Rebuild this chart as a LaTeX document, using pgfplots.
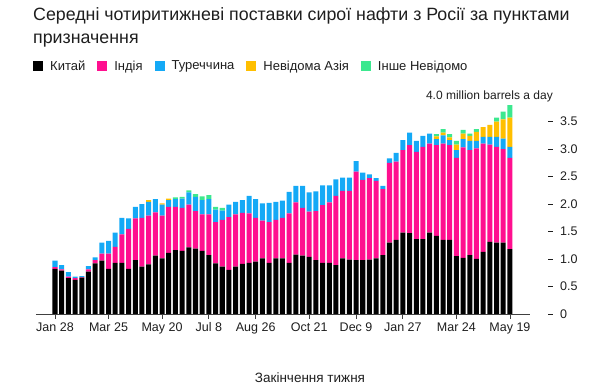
\documentclass[border=0pt]{standalone}
\usepackage{fontspec}
\setmainfont{Liberation Sans}
\usepackage{pgfplots}
\pgfplotsset{compat=1.18}
\usepackage{pgfplotstable}
\definecolor{cchina}{HTML}{000000}
\definecolor{cindia}{HTML}{FF0F8F}
\definecolor{cturkey}{HTML}{14A9F6}
\definecolor{cunk}{HTML}{FFBF00}
\definecolor{cother}{HTML}{3CE88F}
\definecolor{txt}{HTML}{1E1E1E}
\pgfplotstableread{
x c i t u o
0 0.82 0.03 0.12 0 0
1 0.79 0.02 0.08 0 0
2 0.65 0.03 0.08 0 0
3 0.62 0.03 0.03 0 0
4 0.66 0.01 0.02 0 0
5 0.77 0.04 0.06 0 0
6 0.92 0.06 0.05 0 0
7 0.97 0.13 0.20 0 0
8 0.82 0.28 0.23 0 0
9 0.93 0.29 0.26 0 0
10 0.93 0.52 0.30 0 0
11 0.82 0.73 0.19 0 0
12 0.98 0.76 0.21 0 0
13 0.86 0.89 0.25 0 0
14 0.90 0.89 0.25 0.03 0
15 1.06 0.79 0.24 0 0
16 1.01 0.78 0.20 0.02 0
17 1.11 0.84 0.12 0.03 0
18 1.16 0.79 0.14 0 0.03
19 1.15 0.78 0.17 0 0.03
20 1.21 0.78 0.22 0 0.04
21 1.19 0.68 0.26 0 0.05
22 1.15 0.66 0.26 0 0.07
23 1.07 0.74 0.28 0 0.07
24 0.92 0.75 0.23 0 0.05
25 0.86 0.85 0.17 0 0.05
26 0.80 0.96 0.23 0 0
27 0.86 0.95 0.23 0 0
28 0.91 0.93 0.23 0 0
29 0.93 0.90 0.32 0 0
30 0.95 0.80 0.34 0 0
31 1.01 0.69 0.31 0 0
32 0.93 0.74 0.35 0 0
33 1.01 0.70 0.33 0 0
34 1.01 0.74 0.31 0 0
35 0.93 0.90 0.39 0 0
36 1.08 0.95 0.30 0 0
37 1.06 0.87 0.40 0 0
38 1.04 0.82 0.35 0 0
39 0.98 0.89 0.36 0 0
40 0.93 1.05 0.36 0 0
41 0.93 1.10 0.31 0 0
42 0.89 1.26 0.30 0 0
43 1.01 1.23 0.24 0 0
44 0.99 1.25 0.24 0 0
45 0.98 1.61 0.19 0 0
46 0.98 1.46 0.13 0 0
47 0.99 1.48 0.07 0 0
48 1.01 1.41 0.05 0 0
49 1.07 1.20 0.06 0 0
50 1.30 1.45 0.08 0 0
51 1.35 1.42 0.16 0 0
52 1.48 1.50 0.18 0 0
53 1.47 1.60 0.23 0 0
54 1.36 1.59 0.20 0 0
55 1.36 1.68 0.20 0 0
56 1.48 1.62 0.18 0 0
57 1.42 1.65 0.11 0.05 0.04
58 1.35 1.75 0.15 0.05 0.06
59 1.35 1.72 0.09 0.05 0.06
60 1.05 1.79 0.14 0.10 0.07
61 1.02 2.01 0.15 0.10 0.07
62 1.07 1.91 0.17 0.09 0.04
63 1.00 2.01 0.14 0.16 0.05
64 1.13 1.97 0.12 0.18 0.00
65 1.31 1.77 0.14 0.22 0.00
66 1.30 1.74 0.18 0.28 0.07
67 1.30 1.70 0.19 0.35 0.14
68 1.18 1.66 0.20 0.53 0.23
}\data
\newcommand{\yl}[1]{\textcolor{txt}{\rule[0.32em]{5pt}{0.8pt}\hspace{7pt}#1}}
\begin{document}
\begin{tikzpicture}[x=1pt,y=1pt]
\useasboundingbox (-36,-74) rectangle (564,314);
\begin{axis}[
  at={(0,0)}, anchor=south west,
  scale only axis, width=494pt, height=220pt,
  xmin=-2.84, xmax=71.0, ymin=0, ymax=4,
  ybar stacked, bar width=0.75,
  axis x line*=bottom, axis y line*=right,
  y axis line style={draw=none},
  ytick={0,0.5,1,1.5,2,2.5,3,3.5},
  yticklabels={\yl{0},\yl{0.5},\yl{1.0},\yl{1.5},\yl{2.0},\yl{2.5},\yl{3.0},\yl{3.5}},
  ytick style={draw=none},
  xtick={0,8,16,23,30,38,45,52,60,68},
  xticklabels={Jan 28,Mar 25,May 20,Jul 8,Aug 26,Oct 21,Dec 9,Jan 27,Mar 24,May 19},
  x axis line style={draw=black!75, line width=0.8pt},
  xtick style={draw=black!75, line width=0.8pt},
  tick align=outside, major tick length=5pt,
  x tick label style={font=\fontsize{12.5}{14}\selectfont, text=txt},
  y tick label style={font=\fontsize{12.5}{14}\selectfont, anchor=west, inner sep=0pt, xshift=13pt},
  legend columns=5,
  legend style={draw=none, fill=none, at={(axis description cs:-0.0061,1.127)}, anchor=west,
    font=\fontsize{13}{15}\selectfont, text=txt, inner sep=0pt,
    /tikz/every odd column/.append style={column sep=5pt},
    /tikz/every even column/.append style={column sep=10pt}},
  legend image code/.code={\fill[#1] (0pt,-5pt) rectangle (10pt,5pt);},
  clip=false,
]
\addplot[fill=cchina, draw=none] table[x=x,y=c]{\data};
\addplot[fill=cindia, draw=none] table[x=x,y=i]{\data};
\addplot[fill=cturkey, draw=none] table[x=x,y=t]{\data};
\addplot[fill=cunk, draw=none] table[x=x,y=u]{\data};
\addplot[fill=cother, draw=none] table[x=x,y=o]{\data};
\legend{Китай,Індія,Туреччина,Невідома Азія,Інше Невідомо}
\end{axis}
\node[anchor=base west, font=\fontsize{17.8}{21}\selectfont, text=txt, inner sep=0pt] at (-3,293) {Середні чотиритижневі поставки сирої нафти з Росії за пунктами};
\node[anchor=base west, font=\fontsize{17.8}{21}\selectfont, text=txt, inner sep=0pt] at (-3,270) {призначення};
\node[anchor=base east, font=\fontsize{12}{14}\selectfont, text=txt, inner sep=0pt] at (517,214) {4.0 million barrels a day};
\node[anchor=base, font=\fontsize{13.5}{16}\selectfont, text=txt, inner sep=0pt] at (274,-69) {Закінчення тижня};
\end{tikzpicture}
\end{document}
